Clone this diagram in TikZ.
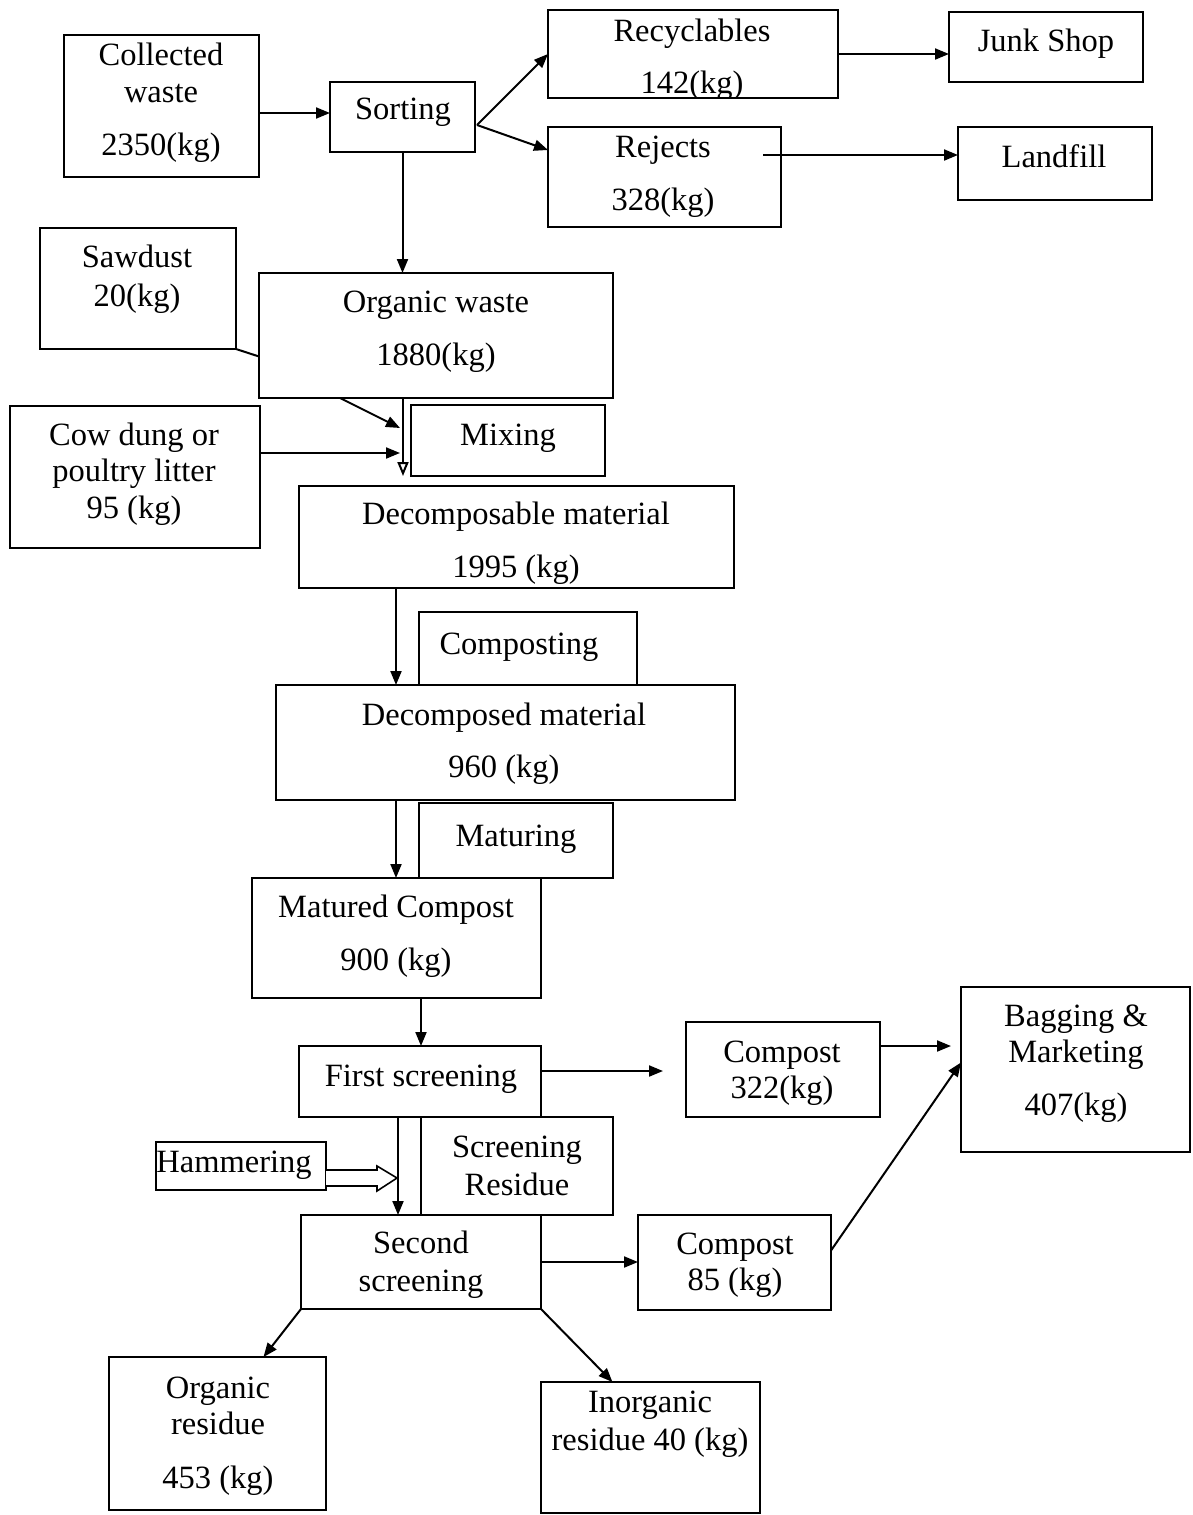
\documentclass[tikz,border=0pt]{standalone}
\usepackage{fontspec}
\setmainfont{Liberation Serif}
\usetikzlibrary{arrows.meta,calc}

% box given by its corner coordinates (x1,y1) (x2,y2), y pointing down
\newcommand\bx[5]{%
  \node[box,minimum width={(#4)-(#2)},minimum height={(#5)-(#3)}]
    (#1) at ({((#2)+(#4))/2},{((#3)+(#5))/2}) {};}
% one line of text, centred at x with its baseline at y
\newcommand\tx[4]{\node[txt] (#1) at (#2,#3) {#4};}

\tikzset{
  box/.style={draw,line width=2pt,inner sep=0pt,outer sep=0pt},
  txt/.style={anchor=base,inner sep=0pt,font=\fontsize{32.5}{38}\selectfont},
  arr/.style={line width=2pt,-{Triangle[length=14pt,width=11pt]}},
  oarr/.style={line width=2pt,-{Triangle[open,length=14pt,width=11pt]}},
  ln/.style={line width=2pt},
}

\begin{document}
\begin{tikzpicture}[x=1pt,y=-1pt]
\useasboundingbox[fill=white] (0,0) rectangle (1192,1515);

% ---------- boxes ----------
\bx{coll}{64}{35}{259}{177}
\bx{sort}{330}{82}{475}{152}
\bx{rec}{548}{10}{838}{98}
\bx{junk}{949}{12}{1143}{82}
\bx{rej}{548}{127}{781}{227}
\bx{land}{958}{127}{1152}{200}
\bx{saw}{40}{228}{236}{349}
\bx{org}{259}{273}{613}{398}
\bx{cow}{10}{406}{260}{548}
\bx{mix}{411}{405}{605}{476}
\bx{decp}{299}{486}{734}{588}
\bx{cmpst}{419}{612}{637}{685}
\bx{decd}{276}{685}{735}{800}
\bx{matur}{419}{803}{613}{878}
\bx{matc}{252}{878}{541}{998}
\bx{fs}{299}{1046}{541}{1117}
\bx{cpa}{686}{1022}{880}{1117}
\bx{bag}{961}{987}{1190}{1152}
\bx{sres}{421}{1117}{613}{1215}
\bx{ham}{156}{1142}{326}{1190}
\bx{ss}{301}{1215}{541}{1309}
\bx{cpb}{638}{1215}{831}{1310}
\bx{ores}{109}{1357}{326}{1510}
\bx{ires}{541}{1382}{760}{1513}

% ---------- texts ----------
\tx{coll1}{161}{65}{Collected}
\tx{coll2}{161}{102}{waste}
\tx{coll3}{161}{155}{2350(kg)}
\tx{sort1}{403}{119}{Sorting}
\begin{scope}
  \clip (rec.north west) rectangle (rec.south east);
  \tx{rec1}{692}{41}{Recyclables}
  \tx{rec2}{692}{93}{142(kg)}
\end{scope}
\tx{junk1}{1046}{51}{Junk Shop}
\tx{rej1}{663}{157}{Rejects}
\tx{rej2}{663}{210}{328(kg)}
\tx{land1}{1054}{167}{Landfill}
\tx{saw1}{137}{267}{Sawdust}
\tx{saw2}{137}{306}{20(kg)}
\tx{org1}{436}{312}{Organic waste}
\tx{org2}{436}{365}{1880(kg)}
\tx{cow1}{134}{445}{Cow dung or}
\tx{cow2}{134}{481}{poultry litter}
\tx{cow3}{134}{518}{95 (kg)}
\tx{mix1}{508}{445}{Mixing}
\begin{scope}
  \clip (decp.north west) rectangle (decp.south east);
  \tx{decp1}{516}{524}{Decomposable material}
  \tx{decp2}{516}{577}{1995 (kg)}
\end{scope}
\tx{cmpst1}{519}{654}{Composting}
\tx{decd1}{504}{725}{Decomposed material}
\tx{decd2}{504}{777}{960 (kg)}
\tx{matur1}{516}{846}{Maturing}
\tx{matc1}{396}{917}{Matured Compost}
\tx{matc2}{396}{970}{900 (kg)}
\tx{fs1}{421}{1086}{First screening}
\tx{cpa1}{782}{1062}{Compost}
\tx{cpa2}{782}{1098}{322(kg)}
\tx{bag1}{1076}{1026}{Bagging \&}
\tx{bag2}{1076}{1062}{Marketing}
\tx{bag3}{1076}{1115}{407(kg)}
\tx{ham1}{234}{1172}{Hammering}
\tx{sres1}{517}{1157}{Screening}
\tx{sres2}{517}{1195}{Residue}
\tx{ss1}{421}{1253}{Second}
\tx{ss2}{421}{1291}{screening}
\tx{cpb1}{735}{1254}{Compost}
\tx{cpb2}{735}{1290}{85 (kg)}
\tx{ores1}{218}{1398}{Organic}
\tx{ores2}{218}{1434}{residue}
\tx{ores3}{218}{1488}{453 (kg)}
\tx{ires1}{650}{1412}{Inorganic}
\tx{ires2}{650}{1450}{residue 40 (kg)}

% ---------- connectors ----------
% collection and sorting
\coordinate (c1) at ([yshift=-7pt]coll.east);
\draw[arr] (c1) -- (c1 -| sort.west);
\coordinate (c2) at ([xshift=2pt,yshift=-8pt]sort.east);
\draw[arr] (c2) -- (rec.west);
\draw[arr] (c2) -- ([yshift=27pt]rej.west);
\draw[arr] (rec.east) -- (rec.east -| junk.west);
\coordinate (c3) at ([xshift=-18pt,yshift=22pt]rej.east);
\draw[arr] (c3) -- (c3 -| land.west);
\draw[arr] (sort.south) -- (sort.south |- org.north);

% mixing
\draw[ln] (saw.south east) -- ([yshift=-21pt]org.west);
\coordinate (mixin) at ([xshift=-11pt,yshift=12.5pt]mix.west);
\draw[arr] ([xshift=-96pt]org.south) -- (mixin);
\coordinate (c4) at ([xshift=-33pt]org.south);
\draw[oarr] (c4) -- (c4 |- mix.south);
\coordinate (c5) at ([yshift=24pt]cow.east);
\draw[arr] (c5) -- (c5 -| mixin);

% composting and maturing
\coordinate (c6) at ([xshift=-120.5pt]decp.south);
\draw[arr] (c6) -- (c6 |- decd.north);
\coordinate (c7) at ([xshift=-109.5pt]decd.south);
\draw[arr] (c7) -- (c7 |- matc.north);
\coordinate (c8) at ([xshift=24.5pt]matc.south);
\draw[arr] (c8) -- (c8 |- fs.north);

% screening
\coordinate (c9) at ([yshift=10.5pt]fs.east);
\draw[arr] (c9) -- ([xshift=-23pt]c9 -| cpa.west);
\coordinate (c10) at ([yshift=23.5pt]cpa.east);
\draw[arr] (c10) -- ([xshift=-10pt]c10 -| bag.west);
\coordinate (c11) at ([xshift=-22pt]fs.south);
\draw[arr] (c11) -- (c11 |- ss.north);
\draw[arr] (ss.east) -- (ss.east -| cpb.west);
\draw[arr] ([yshift=12pt]cpb.east) -- ([yshift=7pt]bag.west);
\draw[arr] (ss.south west) -- ([xshift=46pt]ores.north);
\draw[arr] (ss.south east) -- ([xshift=-38pt]ires.north);

% hollow block arrow from hammering
\coordinate (h0) at ([yshift=-4pt]ham.east);
\draw[line width=1.6pt,fill=white]
  (h0) -- ++(51,0) -- ++(0,-4) -- ++(20,12) -- ++(-20,13) -- ++(0,-5)
  -- ++(-51,0);
\end{tikzpicture}
\end{document}
